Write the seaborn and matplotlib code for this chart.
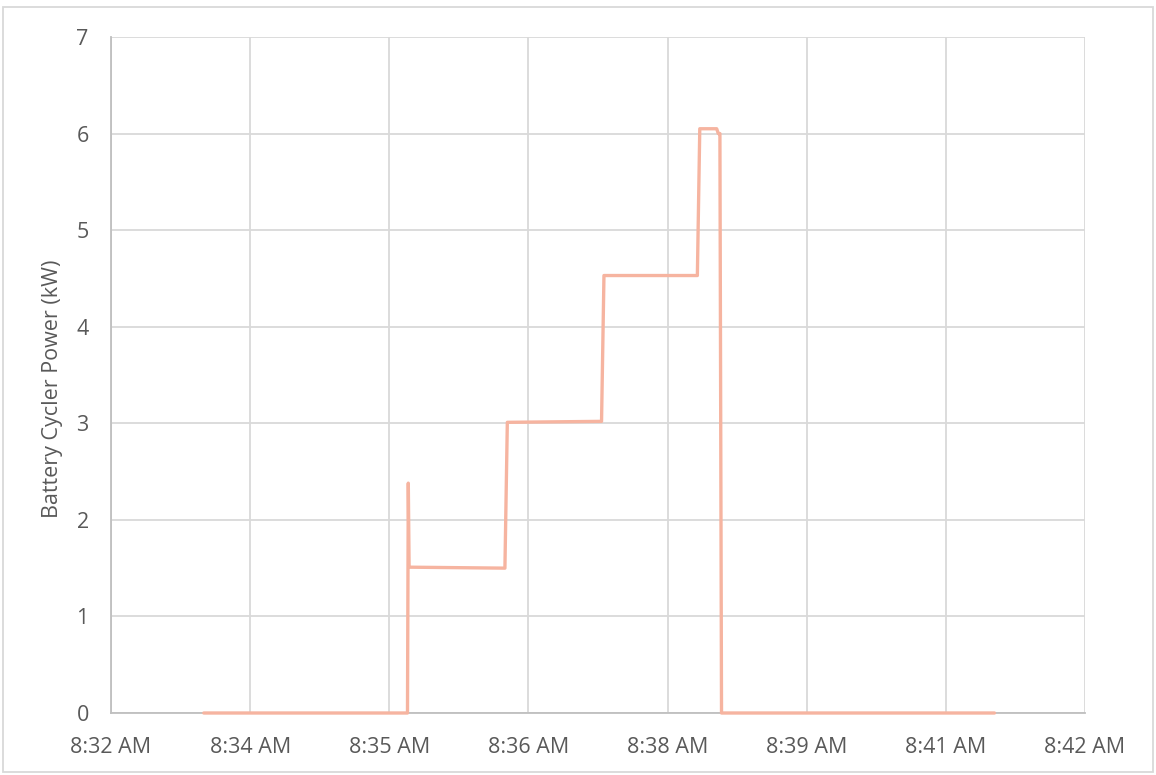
import pandas as pd
import numpy as np
import matplotlib
matplotlib.use("Agg")
import matplotlib.pyplot as plt
import matplotlib.dates as mdates
from matplotlib.ticker import FixedLocator
from matplotlib.patches import Rectangle
import seaborn as sns

# data
times = ["08:33:36", "08:35:42.5", "08:35:43", "08:35:43.5", "08:36:43", "08:36:44.5",
         "08:37:43", "08:37:44.5", "08:38:42.5", "08:38:44", "08:38:54.5", "08:38:55.5",
         "08:38:56.5", "08:38:57.5", "08:41:47"]
power_kw = [0.0, 0.0, 2.38, 1.51, 1.50, 3.01, 3.02, 4.53, 4.53, 6.05, 6.05, 6.00,
            6.00, 0.0, 0.0]
# Excel major unit 0.001 day, labels truncate to minutes
tick_days = [0.356, 0.357, 0.358, 0.359, 0.360, 0.361, 0.362, 0.363]
y_ticks = [0, 1, 2, 3, 4, 5, 6, 7]

base = pd.Timestamp("2020-01-01")
df = pd.DataFrame({
    "time": [base + pd.to_timedelta(t) for t in times],
    "power": power_kw,
})
tick_times = [base + pd.to_timedelta(d * 86400, unit="s") for d in tick_days]

sns.set_style("white")
plt.rcParams['font.family'] = ['Open Sans', 'DejaVu Sans']

fig = plt.figure(figsize=(11.56, 7.75), dpi=100)
ax = fig.add_axes([111 / 1156, 1 - 713 / 775, (1085 - 111) / 1156, (713 - 37) / 775])

sns.lineplot(data=df, x="time", y="power", ax=ax, color="#F6B4A0", linewidth=2.4,
             estimator=None, sort=False, zorder=3, clip_on=False)

ax.set_xlim(tick_times[0], tick_times[-1])
ax.set_ylim(0, 7)
ax.xaxis.set_major_locator(FixedLocator(mdates.date2num(tick_times)))
ax.xaxis.set_major_formatter(mdates.DateFormatter("%-I:%M %p"))
ax.set_yticks(y_ticks)

ax.grid(True, color="#D9D9D9", linewidth=1.3)
ax.set_axisbelow(True)
for side in ["top", "right"]:
    ax.spines[side].set_visible(False)
for side in ["left", "bottom"]:
    ax.spines[side].set_color("#BFBFBF")
    ax.spines[side].set_linewidth(1.3)

ax.tick_params(axis="both", length=0, labelsize=15.5, labelcolor="#595959")
ax.tick_params(axis="y", pad=16)
ax.tick_params(axis="x", pad=17)
ax.set_xlabel("")
ax.set_ylabel("Battery Cycler Power (kW)", fontsize=15.5, color="#595959")
ax.yaxis.set_label_coords(-0.049, 0.479)

# outer chart border
fig.patches.append(Rectangle((3 / 1156, 1 - 772 / 775), 1150 / 1156, 765 / 775,
                             transform=fig.transFigure, fill=False,
                             edgecolor="#D9D9D9", linewidth=1.3))

fig.savefig("out.png", dpi=100)
